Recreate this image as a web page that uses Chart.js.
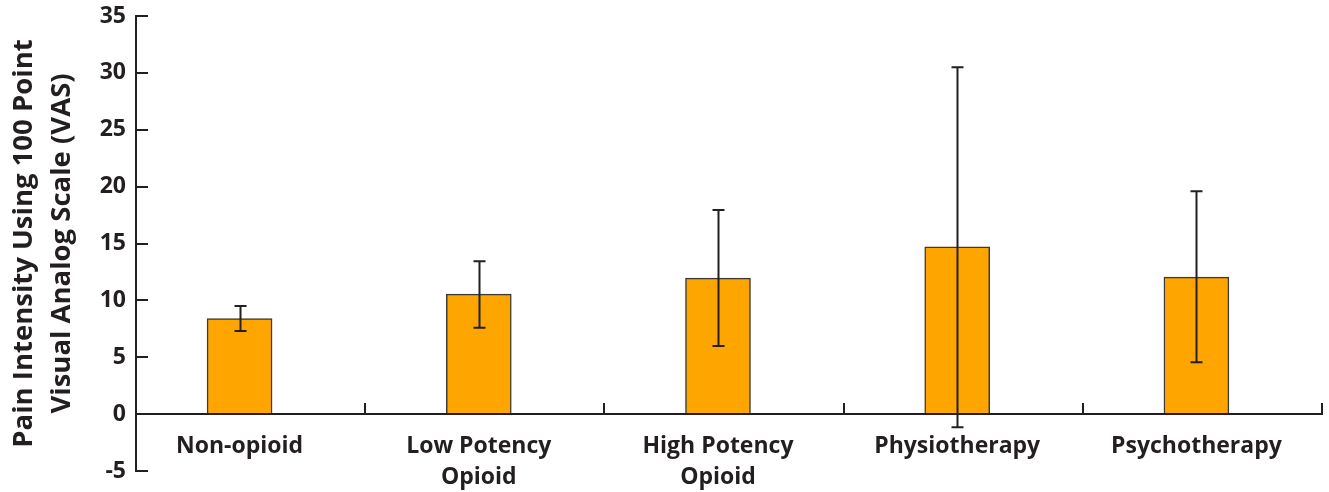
<!DOCTYPE html>
<html>
<head>
<meta charset="utf-8">
<script src="https://cdn.jsdelivr.net/npm/chart.js@4.4.1/dist/chart.umd.min.js"></script>
<style>
  html, body { margin: 0; padding: 0; background: #fff; }
  #wrap { width: 1329px; height: 492px; }
</style>
</head>
<body>
<div id="wrap"><canvas id="chartVAS"></canvas></div>
<script>
// categorias y valores
const categorias = [['Non-opioid'], ['Low Potency', 'Opioid'], ['High Potency', 'Opioid'], ['Physiotherapy'], ['Psychotherapy']];
const medias = [8.4, 10.55, 11.95, 14.7, 12.05];
const errorAlto = [9.5, 13.45, 17.95, 30.5, 19.6];
const errorBajo = [7.3, 7.6, 6.0, -1.15, 4.55];
const ticksY = [-5, 0, 5, 10, 15, 20, 25, 30, 35];

const tinta = '#231f20';
const fuente = "'Open Sans', 'Noto Sans', sans-serif";

const dibujoEjes = {
    id: 'dibujoEjes',
    afterDatasetsDraw(chart) {
        const { ctx, chartArea, scales: { x, y } } = chart;
        const y0 = Math.round(y.getPixelForValue(0));
        ctx.save();
        ctx.strokeStyle = tinta;
        ctx.lineWidth = 2;

        // linea del cero y marcas entre categorias
        ctx.beginPath();
        ctx.moveTo(chartArea.left, y0);
        ctx.lineTo(x.getPixelForValue(categorias.length - 1 + 0.525) + 1, y0);
        for (let i = 0; i < categorias.length; i++) {
            const px = Math.round(x.getPixelForValue(i + 0.525));
            ctx.moveTo(px, y0);
            ctx.lineTo(px, y0 - 11);
        }
        ctx.stroke();

        // marcas hacia dentro en el eje y
        ctx.beginPath();
        ticksY.forEach(v => {
            const py = Math.round(y.getPixelForValue(v));
            ctx.moveTo(chartArea.left, py);
            ctx.lineTo(chartArea.left + 12, py);
        });
        ctx.stroke();

        // barras de error
        ctx.beginPath();
        medias.forEach((m, i) => {
            const px = Math.round(x.getPixelForValue(i)) + 0.5;
            const pa = y.getPixelForValue(errorAlto[i]);
            const pb = y.getPixelForValue(errorBajo[i]);
            ctx.moveTo(px, pa);
            ctx.lineTo(px, pb);
            ctx.moveTo(px - 6, pa);
            ctx.lineTo(px + 6, pa);
            ctx.moveTo(px - 6, pb);
            ctx.lineTo(px + 6, pb);
        });
        ctx.stroke();

        // etiquetas de categoria
        ctx.fillStyle = tinta;
        ctx.font = `bold 23px ${fuente}`;
        ctx.textAlign = 'center';
        ctx.textBaseline = 'middle';
        categorias.forEach((lineas, i) => {
            const px = x.getPixelForValue(i);
            lineas.forEach((t, k) => {
                ctx.fillText(t, px, y0 + 32 + k * 31);
            });
        });
        ctx.restore();
    }
};

const chartVAS = new Chart(document.getElementById('chartVAS'), {
    type: 'bar',
    data: {
        datasets: [{
            data: medias.map((m, i) => ({ x: i, y: m })),
            backgroundColor: '#ffa500',
            borderColor: '#3a3a3a',
            borderWidth: 1.5,
            borderSkipped: false,
            barThickness: 65
        }]
    },
    options: {
        responsive: true,
        maintainAspectRatio: false,
        animation: false,
        layout: { padding: { top: 16, right: 7, bottom: 21, left: 0 } },
        plugins: {
            legend: { display: false },
            tooltip: { enabled: false }
        },
        scales: {
            x: {
                type: 'linear',
                display: false,
                offset: false,
                grid: { offset: false },
                min: -0.433,
                max: 4.525
            },
            y: {
                min: -5,
                max: 35,
                afterFit: (s) => {
                    s.width = 136;
                    s.paddingTop = 0;
                    s.paddingBottom = 0;
                },
                ticks: {
                    stepSize: 5,
                    padding: 10,
                    color: tinta,
                    font: { family: fuente, size: 23, weight: 'bold' }
                },
                grid: { display: false, drawTicks: false },
                border: { display: true, color: tinta, width: 2 },
                title: {
                    display: true,
                    text: ['Pain Intensity Using 100 Point', 'Visual Analog Scale (VAS)'],
                    color: tinta,
                    font: { family: fuente, size: 27.5, weight: 'bold', lineHeight: 1.35 },
                    padding: { top: 6, bottom: 0 }
                }
            }
        }
    },
    plugins: [dibujoEjes]
});
</script>
</body>
</html>
